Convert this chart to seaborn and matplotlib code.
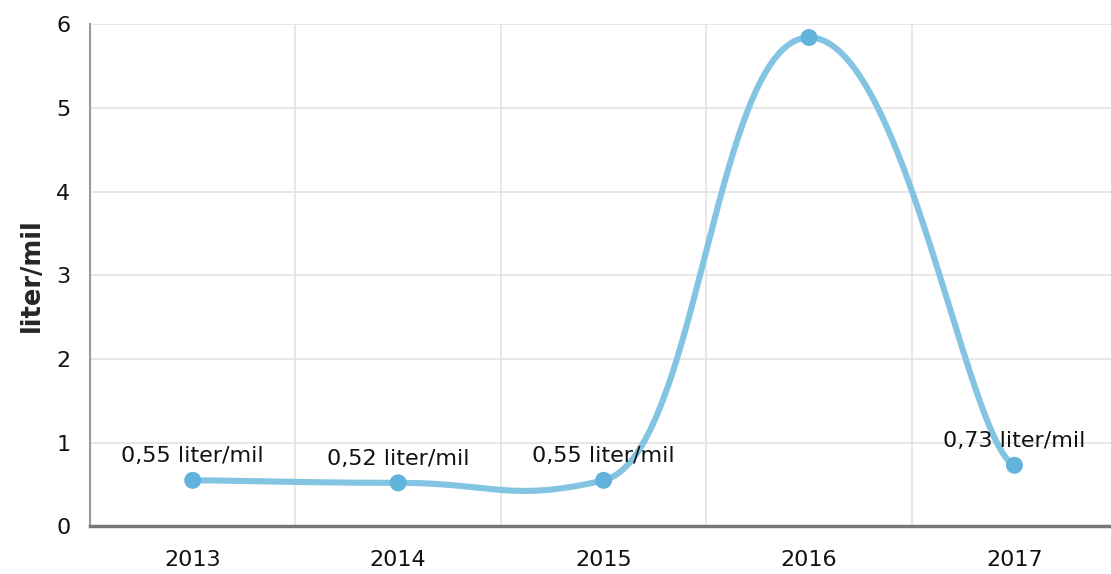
import numpy as np
import pandas as pd
import matplotlib
matplotlib.use("Agg")
import matplotlib.pyplot as plt
import seaborn as sns

# data
years = ["2013", "2014", "2015", "2016", "2017"]
values = [0.55, 0.52, 0.55, 5.84, 0.73]
labels = ["0,55 liter/mil", "0,52 liter/mil", "0,55 liter/mil", "", "0,73 liter/mil"]

df = pd.DataFrame({"year": years, "value": values, "label": labels})
df["pos"] = np.arange(len(df))


def tension_curve(x, y, tx=0.23, ty=0.05, n=80):
    # smoothed line: cubic bezier with separate x / y tension
    # (control = p1 + tension * (p2 - p0), endpoints duplicated)
    p = np.column_stack([x, y]).astype(float)
    k = np.array([tx, ty])
    t = np.linspace(0, 1, n)[:, None]
    parts = []
    for i in range(len(p) - 1):
        p0 = p[max(i - 1, 0)]
        p1, p2 = p[i], p[i + 1]
        p3 = p[min(i + 2, len(p) - 1)]
        c1 = p1 + k * (p2 - p0)
        c2 = p2 - k * (p3 - p1)
        parts.append((1 - t) ** 3 * p1 + 3 * (1 - t) ** 2 * t * c1
                     + 3 * (1 - t) * t ** 2 * c2 + t ** 3 * p2)
    pts = np.vstack(parts)
    return pts[:, 0], pts[:, 1]


sns.set_style("white")
plt.rcParams["font.family"] = ["DejaVu Sans"]

fig, ax = plt.subplots(figsize=(11.11, 5.74), dpi=100)
fig.subplots_adjust(left=0.081, right=1.0, top=0.958, bottom=0.083)

cx, cy = tension_curve(df["pos"], df["value"])
curve = pd.DataFrame({"x": cx, "y": cy})
sns.lineplot(data=curve, x="x", y="y", ax=ax, color="#83c4e2", lw=4.4,
             sort=False, zorder=3)
sns.scatterplot(data=df, x="pos", y="value", ax=ax, color="#62b3dc", s=150,
                edgecolor="none", zorder=4)

for _, r in df.iterrows():
    if r["label"]:
        ax.annotate(r["label"], (r["pos"], r["value"]), xytext=(0, 10),
                    textcoords="offset points", ha="center", va="bottom",
                    fontsize=16, color="#111111")

ax.set_xlim(-0.5, 4.47)
ax.set_ylim(0, 6)
ax.set_xticks(df["pos"])
ax.set_xticklabels(years)
ax.set_yticks(range(7))
ax.set_xticks(np.arange(-0.5, 4.5, 1), minor=True)
ax.grid(True, which="major", axis="y", color="#e3e3e3", lw=1.2)
ax.grid(True, which="minor", axis="x", color="#e3e3e3", lw=1.2)
ax.set_axisbelow(True)

ax.set_xlabel("")
ax.set_ylabel("liter/mil", fontsize=18.5, fontweight="bold", labelpad=8)
ax.tick_params(axis="both", labelsize=16, colors="#111111")
ax.tick_params(axis="y", length=8, width=2, color="#aaaaaa", pad=6)
ax.tick_params(axis="x", length=7, width=2, color="#aaaaaa", pad=10)
ax.tick_params(axis="x", which="minor", length=0)

for side in ("top", "right"):
    ax.spines[side].set_visible(False)
ax.spines["left"].set_color("#999999")
ax.spines["left"].set_linewidth(1.5)
ax.spines["bottom"].set_color("#777777")
ax.spines["bottom"].set_linewidth(2.5)

fig.savefig("out.png", dpi=100)
